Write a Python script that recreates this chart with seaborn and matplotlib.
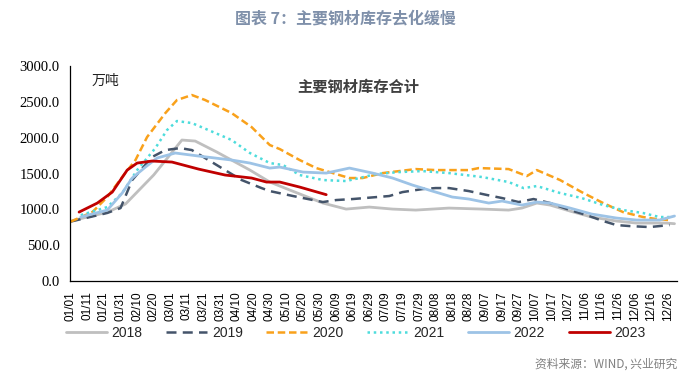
import numpy as np
import pandas as pd
import matplotlib
matplotlib.use("Agg")
import matplotlib.pyplot as plt
import seaborn as sns

# day index (0 = 01/01, leap-year calendar as in the axis labels) and inventory (万吨)
days_2018 = [0, 22, 33, 50, 67, 75, 88, 108, 120, 132, 152, 166, 180, 194, 208, 228, 248, 264, 272, 281, 289, 301, 314, 329, 341, 359, 364]
vals_2018 = [837, 960, 1075, 1480, 1967, 1953, 1800, 1548, 1381, 1270, 1088, 1004, 1032, 1004, 990, 1018, 1004, 990, 1018, 1088, 1060, 976, 893, 837, 809, 809, 800]

days_2019 = [0, 22, 30, 37, 49, 57, 66, 73, 83, 93, 103, 115, 120, 134, 152, 160, 170, 192, 200, 212, 220, 228, 240, 251, 260, 270, 279, 289, 301, 311, 321, 329, 337, 349, 361]
vals_2019 = [830, 950, 1018, 1409, 1730, 1827, 1855, 1827, 1688, 1548, 1409, 1297, 1255, 1186, 1102, 1130, 1144, 1186, 1241, 1283, 1297, 1297, 1255, 1200, 1158, 1102, 1144, 1088, 990, 920, 837, 781, 767, 753, 781]

days_2020 = [0, 13, 22, 31, 39, 46, 57, 64, 73, 81, 97, 109, 120, 126, 138, 148, 158, 168, 176, 188, 198, 208, 220, 240, 246, 264, 275, 281, 295, 308, 321, 333, 345, 353, 361]
vals_2020 = [830, 962, 1172, 1451, 1688, 2009, 2343, 2525, 2595, 2525, 2343, 2148, 1897, 1841, 1688, 1576, 1506, 1437, 1437, 1506, 1534, 1562, 1548, 1548, 1576, 1562, 1465, 1548, 1409, 1241, 1088, 962, 893, 865, 851]

days_2021 = [6, 22, 31, 40, 51, 58, 64, 73, 83, 97, 108, 120, 128, 138, 152, 166, 174, 184, 198, 212, 228, 248, 264, 273, 281, 295, 308, 321, 333, 345, 355, 361]
vals_2021 = [920, 1032, 1228, 1548, 1855, 2106, 2232, 2204, 2106, 1967, 1786, 1646, 1618, 1479, 1409, 1395, 1437, 1493, 1520, 1534, 1506, 1451, 1381, 1297, 1325, 1228, 1158, 1060, 990, 949, 893, 893]

days_2022 = [6, 22, 31, 37, 45, 52, 63, 77, 97, 108, 120, 126, 140, 154, 168, 182, 194, 206, 218, 230, 240, 252, 260, 272, 281, 289, 301, 314, 329, 341, 355, 364]
vals_2022 = [893, 990, 1228, 1437, 1590, 1716, 1786, 1744, 1688, 1646, 1576, 1590, 1520, 1506, 1576, 1506, 1437, 1339, 1255, 1172, 1144, 1088, 1116, 1060, 1102, 1088, 1018, 935, 879, 851, 851, 907]

days_2023 = [5, 16, 25, 34, 40, 49, 61, 77, 93, 109, 118, 126, 138, 154]
vals_2023 = [962, 1088, 1241, 1548, 1646, 1674, 1660, 1562, 1479, 1437, 1381, 1381, 1311, 1205]

tick_labels = pd.date_range("2020-01-01", "2020-12-31", freq="10D").strftime("%m/%d").tolist()

series = {
    "2018": (days_2018, vals_2018, "#BFBFBF", "-", 2.0),
    "2019": (days_2019, vals_2019, "#44546A", (0, (4, 2.5)), 1.8),
    "2020": (days_2020, vals_2020, "#F9A11B", (0, (3, 1.5)), 1.8),
    "2021": (days_2021, vals_2021, "#4DDCDC", (0, (1, 1.5)), 1.8),
    "2022": (days_2022, vals_2022, "#9DC3E6", "-", 2.0),
    "2023": (days_2023, vals_2023, "#C00000", "-", 2.0),
}

sns.set_style("white")
plt.rcParams["font.family"] = ["Noto Sans CJK SC", "DejaVu Sans"]

fig = plt.figure(figsize=(6.88, 3.85), dpi=100)
ax = fig.add_axes([0.1017, 0.270, 0.8823, 0.5586])

for name, (d, v, c, ls, lw) in series.items():
    df = pd.DataFrame({"day": d, "value": v})
    sns.lineplot(data=df, x="day", y="value", ax=ax, color=c, linestyle=ls,
                 linewidth=lw, label=name, legend=False)

ax.set_xlim(-0.5, 365.5)
ax.set_ylim(0, 3000)
ax.set_yticks(np.arange(0, 3001, 500))
ax.set_yticklabels([f"{t:.1f}" for t in np.arange(0, 3001, 500)],
                   fontfamily="Liberation Serif", fontsize=10.5)
ax.set_xticks(np.arange(0, 366, 10))
ax.set_xticklabels(tick_labels, rotation=90, fontfamily="Liberation Sans", fontsize=8.5)
ax.set_xticks(np.arange(0, 366, 1), minor=True)
ax.tick_params(axis="both", which="both", direction="out", length=4, width=0.8, colors="black")
ax.tick_params(axis="x", which="both", length=4, width=0.5)
ax.set_xlabel("")
ax.set_ylabel("")
for s in ["top", "right"]:
    ax.spines[s].set_visible(False)
for s in ["left", "bottom"]:
    ax.spines[s].set_color("black")
    ax.spines[s].set_linewidth(0.9)

ax.text(0.035, 0.93, "万吨", transform=ax.transAxes, fontsize=10, color="#222222", va="center")
ax.text(0.375, 0.905, "主要钢材库存合计", transform=ax.transAxes, fontsize=11,
        color="#404040", va="center", fontweight="bold")

fig.text(0.502, 0.953, "图表 7：主要钢材库存去化缓慢", ha="center", va="center",
         fontsize=11.5, fontweight="bold", color="#7F90AA")
fig.text(0.985, 0.055, "资料来源：WIND, 兴业研究", ha="right", va="center",
         fontsize=8.5, color="#808080")

handles, labels = ax.get_legend_handles_labels()
fig.legend(handles, labels, loc="center", bbox_to_anchor=(0.517, 0.135), ncol=6,
           frameon=False, handlelength=2.95, columnspacing=1.7, handletextpad=0.35,
           prop={"family": "Liberation Sans", "size": 10})

fig.savefig("out.png", dpi=100)
